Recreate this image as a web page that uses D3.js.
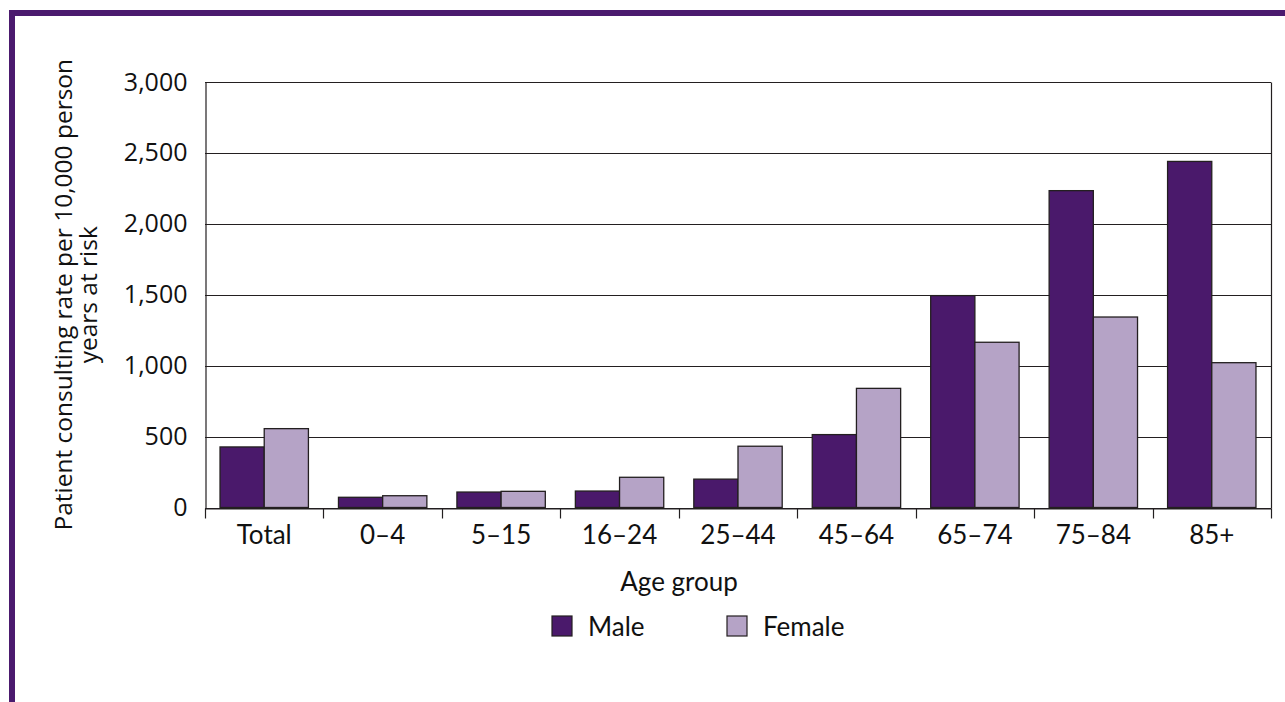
<!DOCTYPE html>
<html>
<head>
<meta charset="utf-8">
<script src="https://cdn.jsdelivr.net/npm/d3@7"></script>
<style>
  html, body { margin: 0; padding: 0; background: #fff; }
  svg { display: block; }
</style>
</head>
<body>
<svg id="chart" width="1285" height="702"></svg>
<script>
const categories = ["Total", "0\u20134", "5\u201315", "16\u201324", "25\u201344", "45\u201364", "65\u201374", "75\u201384", "85+"];
const seriesNames = ["Male", "Female"];
const maleValues = [427, 72, 109, 116, 200, 514, 1494, 2234, 2440];
const femaleValues = [556, 83, 114, 213, 432, 840, 1165, 1343, 1021];
const yTicks = [0, 500, 1000, 1500, 2000, 2500, 3000];
const colors = { Male: "#4a196b", Female: "#b5a3c6" };

const svg = d3.select("#chart");
const W = 1285, H = 702;
const plotL = 205, plotR = 1271, plotT = 82, plotB = 507.5;

// border
const borderColor = "#4b1a6e";
svg.append("rect").attr("x", 9).attr("y", 10).attr("width", W - 9).attr("height", 6).attr("fill", borderColor);
svg.append("rect").attr("x", 9).attr("y", 10).attr("width", 6).attr("height", H - 10).attr("fill", borderColor);

const x = d3.scaleBand().domain(categories).range([plotL, plotR]).paddingInner(0).paddingOuter(0);
const x1 = d3.scaleBand().domain(seriesNames).range([0, x.bandwidth()]).paddingInner(0).paddingOuter(0.34);
const y = d3.scaleLinear().domain([0, 3000]).range([plotB, plotT]);

const data = categories.map((c, i) => ({ cat: c, Male: maleValues[i], Female: femaleValues[i] }));

// gridlines
const g = svg.append("g");
g.selectAll("line.grid").data(yTicks).enter().append("line")
  .attr("x1", plotL).attr("x2", plotR)
  .attr("y1", d => Math.round(y(d)) + 0.5).attr("y2", d => Math.round(y(d)) + 0.5)
  .attr("stroke", "#231f20").attr("stroke-width", 1.2);

// right frame line
g.append("line").attr("x1", plotR + 0.5).attr("x2", plotR + 0.5)
  .attr("y1", Math.round(y(3000)) + 0.5).attr("y2", Math.round(y(0)) + 0.5)
  .attr("stroke", "#231f20").attr("stroke-width", 1.2);

// bars
const groups = svg.append("g").selectAll("g").data(data).enter().append("g")
  .attr("transform", d => `translate(${x(d.cat)},0)`);
groups.selectAll("rect").data(d => seriesNames.map(s => ({ s, v: d[s] }))).enter().append("rect")
  .attr("x", d => x1(d.s))
  .attr("y", d => y(d.v))
  .attr("width", x1.bandwidth())
  .attr("height", d => y(0) - y(d.v))
  .attr("fill", d => colors[d.s])
  .attr("stroke", "#231f20")
  .attr("stroke-width", 1.3);

// y axis
const yAxis = d3.axisLeft(y).tickValues(yTicks).tickSize(0).tickPadding(18).tickFormat(d3.format(","));
const yg = svg.append("g").attr("transform", `translate(${plotL + 0.5},0)`).call(yAxis);
yg.select(".domain").attr("stroke", "#231f20").attr("stroke-width", 1.2);
yg.selectAll("text").attr("font-family", "'Open Sans', sans-serif").attr("font-size", 25).attr("fill", "#111");

// x axis
const xAxis = d3.axisBottom(x).tickSize(0).tickPadding(0);
const xg = svg.append("g").attr("transform", `translate(0,${Math.round(plotB) + 0.5})`).call(xAxis);
xg.select(".domain").attr("stroke", "#231f20").attr("stroke-width", 1.2);
xg.selectAll("text").attr("font-family", "Lato, sans-serif").attr("font-size", 26).attr("fill", "#111")
  .attr("y", 26).attr("dy", "0.35em");
// boundary tick marks
const bounds = categories.map(c => x(c)).concat([plotR]);
xg.selectAll("line.bt").data(bounds).enter().append("line")
  .attr("x1", d => Math.round(d) + 0.5).attr("x2", d => Math.round(d) + 0.5)
  .attr("y1", 0).attr("y2", 10)
  .attr("stroke", "#231f20").attr("stroke-width", 1.2);

// axis titles
svg.append("text").attr("x", 679).attr("y", 582).attr("dy", "0.35em").attr("text-anchor", "middle")
  .attr("font-family", "Lato, sans-serif").attr("font-size", 26).attr("fill", "#111").text("Age group");

const yt = svg.append("text").attr("transform", `translate(63,${(plotT + plotB) / 2}) rotate(-90)`)
  .attr("text-anchor", "middle").attr("font-family", "'Open Sans', sans-serif").attr("font-size", 24.5).attr("fill", "#111");
yt.append("tspan").attr("x", 0).attr("dy", "0.35em").text("Patient consulting rate per 10,000 person");
yt.append("tspan").attr("x", 0).attr("dy", "1.02em").text("years at risk");

// legend
const legendX = { Male: 552, Female: 727 };
const lg = svg.append("g");
seriesNames.forEach(s => {
  lg.append("rect").attr("x", legendX[s]).attr("y", 616).attr("width", 20).attr("height", 20)
    .attr("fill", colors[s]).attr("stroke", "#231f20").attr("stroke-width", 1.2);
  lg.append("text").attr("x", legendX[s] + 36).attr("y", 627).attr("dy", "0.35em")
    .attr("font-family", "Lato, sans-serif").attr("font-size", 26).attr("fill", "#111").text(s);
});
</script>
</body>
</html>
